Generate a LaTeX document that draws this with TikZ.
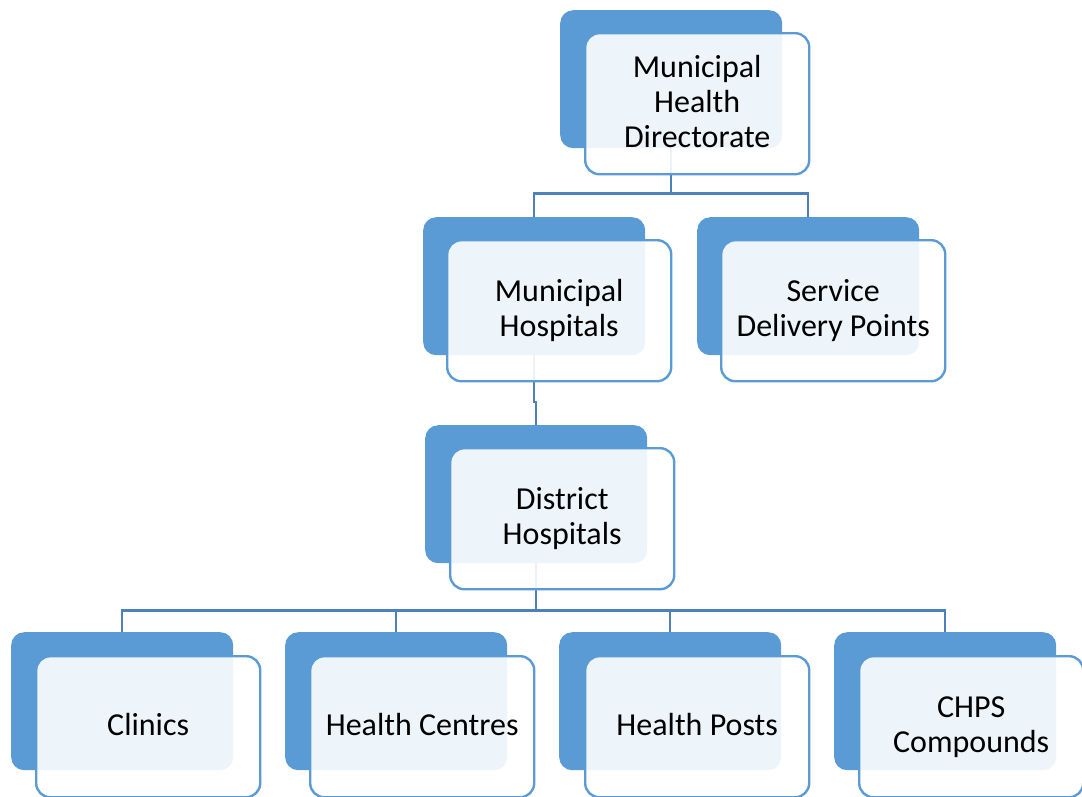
\documentclass[tikz,border=0pt]{standalone}
\usepackage{fontspec}
\setmainfont{Carlito}
\usetikzlibrary{calc}
\definecolor{accent}{HTML}{5B9BD5}
\definecolor{linkc}{HTML}{4E80BB}
\pgfdeclarelayer{bg}
\pgfsetlayers{bg,main}
\tikzset{
  backbox/.style={draw=none, fill=accent, rounded corners=13pt, minimum width=222pt, minimum height=138pt, anchor=north west, inner sep=0pt},
  frontbox/.style={draw=accent, line width=2.4pt, fill=white, fill opacity=0.9, text opacity=1, rounded corners=14pt, minimum width=224pt, minimum height=141pt, anchor=north west, inner sep=0pt, align=center, font=\fontsize{32}{35}\selectfont, text=black},
  link/.style={draw=linkc, line width=2.4pt}
}
\begin{document}
\begin{tikzpicture}[x=1pt, y=-1pt]
\useasboundingbox (0,0) rectangle (1082,796);
% level 1
\node[backbox] (mhdB) at (560,10) {};
\node[frontbox] (mhd) at (584,32) {Municipal\\Health\\Directorate\\[-30pt]};
% level 2
\node[backbox] (mhB) at (423,217) {};
\node[frontbox] (mh) at (446,239) {Municipal\\Hospitals\\[-30pt]};
\node[backbox] (sdpB) at (697,217) {};
\node[frontbox] (sdp) at (720,239) {Service\\Delivery Points\\[-30pt]};
% level 3
\node[backbox] (dhB) at (425,425) {};
\node[frontbox] (dh) at (449,447) {District\\Hospitals\\[-30pt]};
% level 4
\node[backbox] (clB) at (11,632) {};
\node[frontbox] (cl) at (35,655) {Clinics\\[-30pt]};
\node[backbox] (hcB) at (285,632) {};
\node[frontbox] (hc) at (309,655) {Health Centres\\[-30pt]};
\node[backbox] (hpB) at (559,632) {};
\node[frontbox] (hp) at (584,655) {Health Posts\\[-30pt]};
\node[backbox] (chB) at (834,632) {};
\node[frontbox] (ch) at (858,655) {CHPS\\Compounds\\[-30pt]};
% connectors
\begin{pgfonlayer}{bg}
\draw[link] (mhdB.south) -- ++(0,45) -| (mhB.north);
\draw[link] (mhdB.south) -- ++(0,45) -| (sdpB.north);
\draw[link] (mhB.south) |- ($(dhB.north)+(0,-23)$) -- (dhB.north);
\draw[link] (dhB.south) -- ++(0,47) -| (clB.north);
\draw[link] (dhB.south) -- ++(0,47) -| (hcB.north);
\draw[link] (dhB.south) -- ++(0,47) -| (hpB.north);
\draw[link] (dhB.south) -- ++(0,47) -| (chB.north);
\end{pgfonlayer}
\end{tikzpicture}
\end{document}
